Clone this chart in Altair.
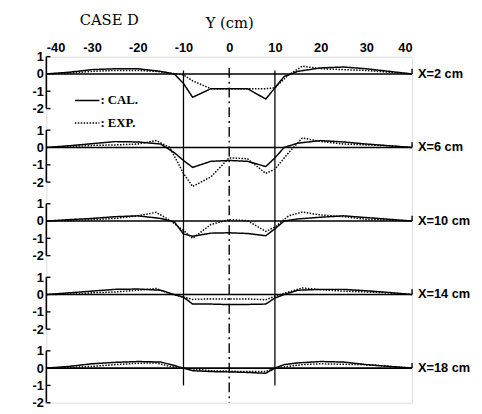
import altair as alt
import pandas as pd

# ---------------- data ----------------
PANELS = ["X=2 cm", "X=6 cm", "X=10 cm", "X=14 cm", "X=18 cm"]
SPACING = 4.25  # vertical offset between stacked panels (axis units)

Y_TICKS = [-40, -30, -20, -10, 0, 10, 20, 30, 40]
PANEL_TICKS = [1, 0, -1, -2]

Y_CAL = [-40, -35, -30, -25, -20, -15, -12, -10, -8, -4, 0, 4, 8, 10, 12, 15, 20, 25, 30, 35, 40]
Y_EXP = [-40, -35, -30, -25, -20, -16, -13, -10, -8, -4, 0, 4, 8, 10, 13, 16, 20, 25, 30, 35, 40]

CAL_X2 = [0, 0.1, 0.25, 0.3, 0.3, 0.15, 0.0, -0.55, -1.35, -0.85, -0.85, -0.85, -1.45, -0.8, -0.15, 0.15, 0.35, 0.4, 0.3, 0.15, 0]
CAL_X6 = [0, 0.1, 0.22, 0.34, 0.32, 0.2, -0.3, -0.75, -1.15, -0.8, -0.75, -0.8, -1.1, -0.6, 0.0, 0.25, 0.4, 0.32, 0.2, 0.1, 0]
CAL_X10 = [0, 0.08, 0.15, 0.25, 0.3, 0.15, -0.05, -0.75, -0.88, -0.7, -0.68, -0.72, -0.85, -0.45, 0.0, 0.12, 0.22, 0.3, 0.2, 0.1, 0]
CAL_X14 = [0, 0.1, 0.2, 0.3, 0.32, 0.25, 0.0, -0.15, -0.55, -0.55, -0.58, -0.57, -0.55, -0.2, 0.0, 0.25, 0.3, 0.3, 0.22, 0.12, 0]
CAL_X18 = [0, 0.1, 0.25, 0.33, 0.38, 0.35, 0.15, 0.0, -0.15, -0.2, -0.22, -0.25, -0.3, 0.0, 0.2, 0.3, 0.38, 0.35, 0.2, 0.1, 0]

EXP_X2 = [0, 0.05, 0.15, 0.2, 0.2, 0.15, 0.05, -0.05, -0.4, -0.85, -0.85, -0.85, -0.85, -0.8, -0.05, 0.45, 0.3, 0.25, 0.2, 0.1, 0]
EXP_X6 = [0, 0.05, 0.12, 0.15, 0.2, 0.4, 0.0, -1.5, -2.25, -1.7, -0.6, -0.65, -1.5, -1.25, -0.3, 0.55, 0.35, 0.2, 0.15, 0.1, 0]
EXP_X10 = [0, 0.02, 0.08, 0.15, 0.3, 0.5, 0.05, -0.55, -1.0, -0.2, 0.08, 0.02, -0.6, -0.35, 0.3, 0.52, 0.35, 0.25, 0.1, 0.05, 0]
EXP_X14 = [0, 0.02, 0.1, 0.15, 0.25, 0.35, 0.05, -0.15, -0.28, -0.25, -0.25, -0.25, -0.3, -0.1, 0.15, 0.38, 0.28, 0.2, 0.15, 0.1, 0]
EXP_X18 = [0, 0.03, 0.1, 0.2, 0.28, 0.3, 0.1, 0.0, -0.05, -0.15, -0.18, -0.2, -0.2, 0.0, 0.1, 0.2, 0.25, 0.22, 0.2, 0.1, 0]

CAL = [CAL_X2, CAL_X6, CAL_X10, CAL_X14, CAL_X18]
EXP = [EXP_X2, EXP_X6, EXP_X10, EXP_X14, EXP_X18]

WALLS = [-10, 10]      # solid vertical lines
CENTER = [0]           # dash-dot centre line

# ---------------- tables ----------------
rows = []
for k, (lab, c, e) in enumerate(zip(PANELS, CAL, EXP)):
    for y, v in zip(Y_CAL, c):
        rows.append(dict(y=y, v=v, k=k, series="CAL.", panel=lab))
    for y, v in zip(Y_EXP, e):
        rows.append(dict(y=y, v=v, k=k, series="EXP.", panel=lab))
curves_df = pd.DataFrame(rows)

n = len(PANELS)
ymin = -2 - SPACING * (n - 1)
panels_df = pd.DataFrame({"panel": PANELS, "k": list(range(n))})
ticks_df = pd.DataFrame([dict(k=k, t=t) for k in range(n) for t in PANEL_TICKS if t != 0])
walls_df = pd.DataFrame({"x": WALLS, "top": [0.2] * len(WALLS), "bot": [-1 - SPACING * (n - 1)] * len(WALLS)})
center_df = pd.DataFrame({"x": CENTER, "top": [0.35], "bot": [ymin]})
title_df = pd.DataFrame({"txt": ["CASE D"]})

xs = alt.Scale(domain=[-40, 40], nice=False, zero=False)
ys = alt.Scale(domain=[ymin, 1], nice=False, zero=False)

axis_positions = [t - SPACING * k for k in range(n) for t in PANEL_TICKS]

NUMFONT = "Liberation Sans"

XAX = alt.Axis(
    orient="top", values=Y_TICKS, title="Y (cm)", ticks=False, domain=False, grid=False,
    labelExpr="'' + datum.value", labelFont=NUMFONT, labelFontSize=13, labelFontWeight="bold",
    labelPadding=2, titleFont="DejaVu Serif", titleFontSize=15, titleFontWeight="normal",
    titlePadding=12, labelColor="black", titleColor="black")
YAX = alt.Axis(
    values=axis_positions, title=None, ticks=False, domain=False, grid=False,
    labelExpr=f"'' + round(datum.value + {SPACING} * round(-datum.value / {SPACING}))",
    labelFont=NUMFONT, labelFontSize=13, labelFontWeight="bold", labelPadding=3,
    labelColor="black", labelOverlap=False)


def X(field):
    return alt.X(field, scale=xs, axis=XAX, title="Y (cm)")


def Y(field):
    return alt.Y(field, scale=ys, axis=YAX, title=None)


curves = alt.Chart(curves_df).transform_calculate(
    pos=f"datum.v - {SPACING} * datum.k"
).mark_line(color="black", strokeWidth=1.5, clip=False).encode(
    x=X("y:Q"),
    y=Y("pos:Q"),
    strokeDash=alt.StrokeDash("series:N", scale=alt.Scale(domain=["CAL.", "EXP."], range=[[1, 0], [1.5, 1.5]]),
                              legend=alt.Legend(orient="none", legendX=28, legendY=31, title=None,
                                                symbolType="stroke", symbolSize=625, symbolStrokeWidth=1.5,
                                                symbolStrokeColor="black", labelExpr="': ' + datum.label",
                                                labelFont="Liberation Serif", labelFontSize=13,
                                                labelFontWeight="bold", labelColor="black",
                                                rowPadding=2, padding=0, labelOffset=0)),
    detail="panel:N",
)

base = alt.Chart(panels_df).transform_calculate(
    pos=f"-{SPACING} * datum.k",
    top=f"0.3 - {SPACING} * datum.k",
    a=f"1 - {SPACING} * datum.k",
    b=f"-2 - {SPACING} * datum.k",
    xl="-40",
    xr="40",
)

baselines = base.mark_rule(color="black", strokeWidth=1.6).encode(
    x=X("xl:Q"), x2="xr:Q", y=Y("pos:Q"))
endticks = base.mark_rule(color="black", strokeWidth=1.4).encode(
    x=X("xr:Q"), y=Y("pos:Q"), y2="top:Q")
labels = base.mark_text(align="left", baseline="middle", dx=6, font=NUMFONT, fontSize=13,
                        fontWeight="bold", color="black").encode(
    x=X("xr:Q"), y=Y("pos:Q"), text="panel:N")
brackets = base.mark_rule(color="black", strokeWidth=1.6).encode(
    x=X("xl:Q"), y=Y("a:Q"), y2="b:Q")

bticks = alt.Chart(ticks_df).transform_calculate(
    pos=f"datum.t - {SPACING} * datum.k", xl="-40", xt="-39.1"
).mark_rule(color="black", strokeWidth=1.4).encode(
    x=X("xl:Q"), x2="xt:Q", y=Y("pos:Q"))

walls = alt.Chart(walls_df).mark_rule(color="black", strokeWidth=1.3).encode(
    x=X("x:Q"), y=Y("top:Q"), y2="bot:Q")

center = alt.Chart(center_df).mark_rule(color="black", strokeWidth=1.4, strokeDash=[10, 4, 2, 4]).encode(
    x=X("x:Q"), y=Y("top:Q"), y2="bot:Q")

title = alt.Chart(title_df).mark_text(font="DejaVu Serif", fontSize=15, color="black",
                                      align="center", baseline="middle").encode(
    x=alt.value(64), y=alt.value(-37), text="txt:N")

chart = alt.layer(curves, walls, center, baselines, endticks, brackets, bticks, labels, title).properties(
    width=372, height=352,
    autosize=alt.AutoSizeParams(type="none"),
    padding={"left": 39, "top": 46, "right": 63, "bottom": 8},
).configure_view(strokeWidth=0).configure(background="white")

chart.save("out.html", embed_options={"renderer": "svg", "actions": False})
